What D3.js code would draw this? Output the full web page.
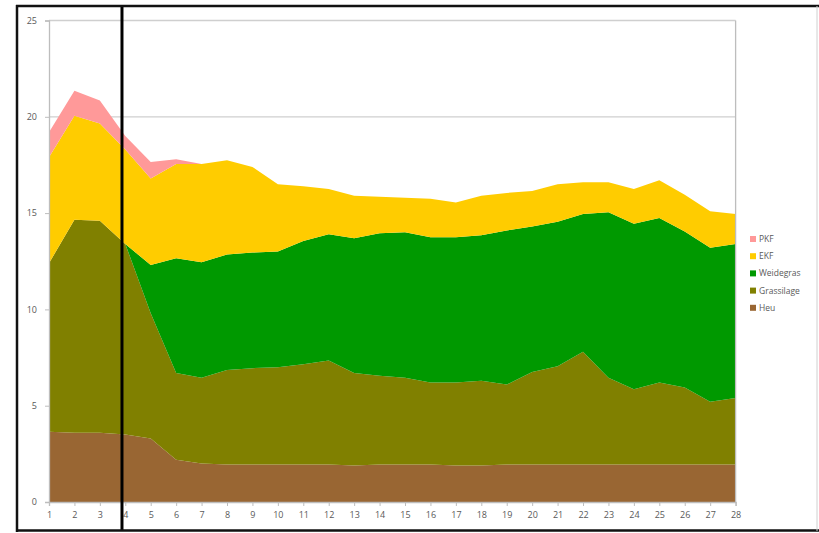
<!DOCTYPE html>
<html>
<head>
<meta charset="utf-8">
<script src="https://cdn.jsdelivr.net/npm/d3@7"></script>
<style>
  html, body { margin: 0; padding: 0; background: #ffffff; }
  svg { display: block; }
  text { font-family: "Open Sans", "Liberation Sans", sans-serif; }
</style>
</head>
<body>
<svg id="chart" width="819" height="533"></svg>
<script>
// Days along the x axis
const days = d3.range(1, 29);

// Daily feed amounts per component (stacked from bottom to top)
const heu        = [3.65,3.6,3.6,3.5,3.3,2.2,2.0,1.95,1.95,1.95,1.95,1.95,1.9,1.95,1.95,1.95,1.9,1.9,1.95,1.95,1.95,1.95,1.95,1.95,1.95,1.95,1.95,1.95];
const grassilage = [8.75,11.05,11.0,9.9,6.5,4.5,4.45,4.9,5.0,5.05,5.2,5.4,4.8,4.6,4.5,4.25,4.3,4.4,4.15,4.8,5.1,5.85,4.5,3.9,4.25,4.0,3.25,3.45];
const weidegras  = [0,0,0,0,2.5,5.95,6.0,6.0,6.0,6.0,6.4,6.55,7.0,7.4,7.55,7.55,7.55,7.55,8.0,7.55,7.5,7.15,8.6,8.6,8.55,8.1,8.0,8.0];
const ekf        = [5.5,5.4,5.05,4.9,4.5,4.9,5.1,4.9,4.45,3.5,2.85,2.35,2.2,1.9,1.8,2.0,1.8,2.05,1.95,1.85,1.95,1.65,1.55,1.8,1.95,1.9,1.9,1.55];
const pkf        = [1.3,1.3,1.2,0.7,0.85,0.25,0,0,0,0,0,0,0,0,0,0,0,0,0,0,0,0,0,0,0,0,0,0];

const seriesNames  = ["Heu", "Grassilage", "Weidegras", "EKF", "PKF"];
const seriesValues = [heu, grassilage, weidegras, ekf, pkf];
const seriesColors = ["#996633", "#808000", "#009900", "#ffcc00", "#ff9999"];

const yTicks = [0, 5, 10, 15, 20, 25];
const gridValues = [20, 25];
const markerDay = 3.87;   // vertical marker line

const svg = d3.select("#chart");

const x = d3.scaleLinear().domain([1, 28]).range([49, 735.6]);
const y = d3.scaleLinear().domain([0, 25]).range([502, 20.5]);

// rows for the stack
const rows = days.map((d, i) => {
  const r = { day: d };
  seriesNames.forEach((n, k) => { r[n] = seriesValues[k][i]; });
  return r;
});
const stacked = d3.stack().keys(seriesNames)(rows);

// grid lines
svg.append("g").selectAll("line").data(gridValues).join("line")
  .attr("x1", x(1)).attr("x2", x(28))
  .attr("y1", d => y(d)).attr("y2", d => y(d))
  .attr("stroke", "#cfcfcf").attr("stroke-width", 1.3);

// stacked areas
const area = d3.area()
  .x(d => x(d.data.day))
  .y0(d => y(d[0]))
  .y1(d => y(d[1]));

svg.append("g").selectAll("path").data(stacked).join("path")
  .attr("d", area)
  .attr("fill", (d, i) => seriesColors[i]);

// plot frame sides
svg.append("line").attr("x1", x(28)).attr("x2", x(28)).attr("y1", y(25)).attr("y2", y(0))
  .attr("stroke", "#bdbdbd").attr("stroke-width", 1.3);

// axes
const yAxis = d3.axisLeft(y).tickValues(yTicks).tickSize(4).tickPadding(8);
const gy = svg.append("g").attr("transform", `translate(${x(1)},0)`).call(yAxis);
const xAxis = d3.axisBottom(x).tickValues(days).tickSize(4).tickPadding(6).tickFormat(d3.format("d"));
const gx = svg.append("g").attr("transform", `translate(0,${y(0)})`).call(xAxis);

[gx, gy].forEach(g => {
  g.select(".domain").attr("stroke", "#bdbdbd").attr("stroke-width", 1.3);
  g.selectAll(".tick line").attr("stroke", "#bdbdbd");
  g.selectAll(".tick text").attr("fill", "#595959").style("font-size", "9px")
    .style("font-family", "\"Open Sans\", \"Liberation Sans\", sans-serif");
});

// legend, top item drawn first
const legendItems = seriesNames.map((n, i) => ({ name: n, color: seriesColors[i] })).reverse();
const legend = svg.append("g").attr("transform", "translate(750,239)");
const li = legend.selectAll("g").data(legendItems).join("g")
  .attr("transform", (d, i) => `translate(0,${i * 17.2})`);
li.append("rect").attr("x", 0).attr("y", -3).attr("width", 6).attr("height", 6)
  .attr("fill", d => d.color);
li.append("text").attr("x", 9).attr("y", 0).attr("dy", "0.35em")
  .attr("fill", "#595959").style("font-size", "8.5px").text(d => d.name);

// vertical marker line
svg.append("line")
  .attr("x1", x(markerDay)).attr("x2", x(markerDay))
  .attr("y1", 5).attr("y2", 531)
  .attr("stroke", "#000").attr("stroke-width", 3);

// outer border
svg.append("line").attr("x1", 16).attr("x2", 819).attr("y1", 6).attr("y2", 6)
  .attr("stroke", "#111").attr("stroke-width", 2.5);
svg.append("line").attr("x1", 17).attr("x2", 17).attr("y1", 5).attr("y2", 532)
  .attr("stroke", "#111").attr("stroke-width", 2.5);
svg.append("line").attr("x1", 16).attr("x2", 819).attr("y1", 530.5).attr("y2", 530.5)
  .attr("stroke", "#111").attr("stroke-width", 2.5);
svg.append("line").attr("x1", 817).attr("x2", 817).attr("y1", 6).attr("y2", 531)
  .attr("stroke", "#d0d0d0").attr("stroke-width", 1);
</script>
</body>
</html>
